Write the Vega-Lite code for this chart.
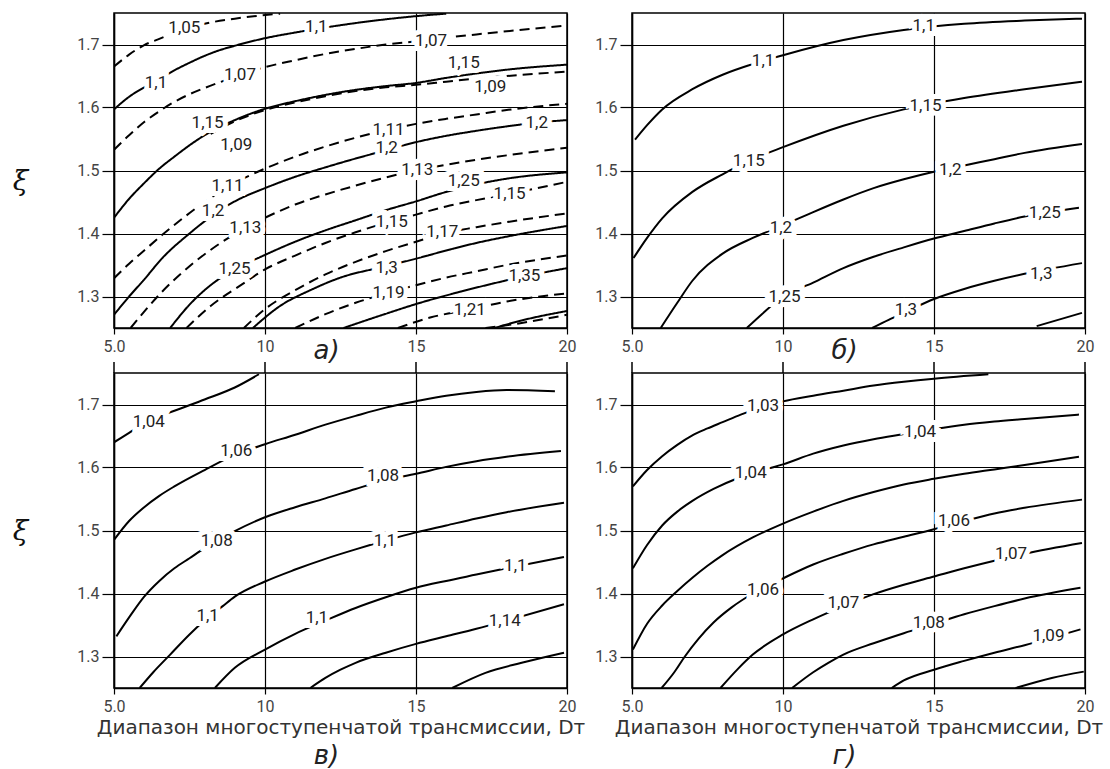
{
"$schema": "https://vega.github.io/schema/vega-lite/v6.json",
"background": "white",
"padding": {"left": 11, "top": 12, "right": 5, "bottom": 0},
"bounds": "flush",
"columns": 2,
"spacing": {"row": 45, "column": 65},
"config": {
  "view": {"stroke": "#000", "strokeWidth": 1.5},
  "axis": {"grid": true, "gridColor": "#000", "gridOpacity": 1, "gridWidth": 1.2, "domainColor": "#000", "domainWidth": 1.5, "tickColor": "#000", "tickWidth": 1.2, "labelFont": "Roboto", "labelFontSize": 16, "labelColor": "#444", "titleColor": "#333", "titleFont": "DejaVu Sans", "titleFontWeight": "normal", "titleFontSize": 20},
  "title": {"font": "DejaVu Sans", "fontSize": 26, "fontStyle": "italic", "fontWeight": "normal", "color": "#222"},
  "text": {"font": "Roboto", "fontSize": 17},
  "line": {"interpolate": "monotone"}
},
"datasets": {
"ticks": [{"x":5},{"x":10},{"x":15},{"x":20}],
"curves": [
{"p":"a","c":"a1","f":"d","x":5,"y":1.665},{"p":"a","c":"a1","f":"d","x":5.5,"y":1.684},{"p":"a","c":"a1","f":"d","x":6,"y":1.699},{"p":"a","c":"a1","f":"d","x":6.5,"y":1.709},{"p":"a","c":"a1","f":"d","x":7.3,"y":1.724},{"p":"a","c":"a1","f":"d","x":8,"y":1.733},{"p":"a","c":"a1","f":"d","x":9,"y":1.741},{"p":"a","c":"a1","f":"d","x":10.5,"y":1.749},
{"p":"a","c":"a2","f":"s","x":5,"y":1.597},{"p":"a","c":"a2","f":"s","x":5.5,"y":1.617},{"p":"a","c":"a2","f":"s","x":6,"y":1.632},{"p":"a","c":"a2","f":"s","x":6.5,"y":1.645},{"p":"a","c":"a2","f":"s","x":7,"y":1.659},{"p":"a","c":"a2","f":"s","x":7.5,"y":1.671},{"p":"a","c":"a2","f":"s","x":8,"y":1.682},{"p":"a","c":"a2","f":"s","x":8.5,"y":1.691},{"p":"a","c":"a2","f":"s","x":9,"y":1.698},{"p":"a","c":"a2","f":"s","x":10,"y":1.71},{"p":"a","c":"a2","f":"s","x":11,"y":1.719},{"p":"a","c":"a2","f":"s","x":12,"y":1.727},{"p":"a","c":"a2","f":"s","x":13,"y":1.734},{"p":"a","c":"a2","f":"s","x":14,"y":1.74},{"p":"a","c":"a2","f":"s","x":15,"y":1.745},{"p":"a","c":"a2","f":"s","x":16,"y":1.749},
{"p":"a","c":"a3","f":"d","x":5,"y":1.533},{"p":"a","c":"a3","f":"d","x":5.5,"y":1.556},{"p":"a","c":"a3","f":"d","x":6,"y":1.577},{"p":"a","c":"a3","f":"d","x":6.5,"y":1.594},{"p":"a","c":"a3","f":"d","x":7,"y":1.609},{"p":"a","c":"a3","f":"d","x":7.5,"y":1.621},{"p":"a","c":"a3","f":"d","x":8,"y":1.631},{"p":"a","c":"a3","f":"d","x":8.5,"y":1.64},{"p":"a","c":"a3","f":"d","x":9.2,"y":1.652},{"p":"a","c":"a3","f":"d","x":10,"y":1.664},{"p":"a","c":"a3","f":"d","x":11,"y":1.675},{"p":"a","c":"a3","f":"d","x":12,"y":1.685},{"p":"a","c":"a3","f":"d","x":13,"y":1.693},{"p":"a","c":"a3","f":"d","x":14,"y":1.7},{"p":"a","c":"a3","f":"d","x":15,"y":1.705},{"p":"a","c":"a3","f":"d","x":16,"y":1.711},{"p":"a","c":"a3","f":"d","x":17,"y":1.716},{"p":"a","c":"a3","f":"d","x":18,"y":1.721},{"p":"a","c":"a3","f":"d","x":20,"y":1.73},
{"p":"a","c":"a4","f":"s","x":5,"y":1.425},{"p":"a","c":"a4","f":"s","x":5.5,"y":1.455},{"p":"a","c":"a4","f":"s","x":6,"y":1.48},{"p":"a","c":"a4","f":"s","x":6.5,"y":1.503},{"p":"a","c":"a4","f":"s","x":7,"y":1.522},{"p":"a","c":"a4","f":"s","x":7.5,"y":1.54},{"p":"a","c":"a4","f":"s","x":8,"y":1.556},{"p":"a","c":"a4","f":"s","x":9,"y":1.58},{"p":"a","c":"a4","f":"s","x":10,"y":1.598},{"p":"a","c":"a4","f":"s","x":11,"y":1.61},{"p":"a","c":"a4","f":"s","x":12,"y":1.62},{"p":"a","c":"a4","f":"s","x":13,"y":1.628},{"p":"a","c":"a4","f":"s","x":14,"y":1.634},{"p":"a","c":"a4","f":"s","x":15,"y":1.639},{"p":"a","c":"a4","f":"s","x":16,"y":1.647},{"p":"a","c":"a4","f":"s","x":17,"y":1.654},{"p":"a","c":"a4","f":"s","x":18,"y":1.66},{"p":"a","c":"a4","f":"s","x":20,"y":1.668},
{"p":"a","c":"a5","f":"d","x":8.2,"y":1.558},{"p":"a","c":"a5","f":"d","x":9,"y":1.578},{"p":"a","c":"a5","f":"d","x":10,"y":1.596},{"p":"a","c":"a5","f":"d","x":11,"y":1.608},{"p":"a","c":"a5","f":"d","x":12,"y":1.618},{"p":"a","c":"a5","f":"d","x":13,"y":1.626},{"p":"a","c":"a5","f":"d","x":14,"y":1.632},{"p":"a","c":"a5","f":"d","x":15,"y":1.636},{"p":"a","c":"a5","f":"d","x":16,"y":1.641},{"p":"a","c":"a5","f":"d","x":17,"y":1.646},{"p":"a","c":"a5","f":"d","x":18,"y":1.65},{"p":"a","c":"a5","f":"d","x":20,"y":1.657},
{"p":"a","c":"a6","f":"d","x":5,"y":1.329},{"p":"a","c":"a6","f":"d","x":5.5,"y":1.352},{"p":"a","c":"a6","f":"d","x":6,"y":1.373},{"p":"a","c":"a6","f":"d","x":6.6,"y":1.398},{"p":"a","c":"a6","f":"d","x":7.3,"y":1.425},{"p":"a","c":"a6","f":"d","x":8,"y":1.45},{"p":"a","c":"a6","f":"d","x":8.8,"y":1.475},{"p":"a","c":"a6","f":"d","x":10,"y":1.503},{"p":"a","c":"a6","f":"d","x":11,"y":1.522},{"p":"a","c":"a6","f":"d","x":12,"y":1.538},{"p":"a","c":"a6","f":"d","x":13,"y":1.552},{"p":"a","c":"a6","f":"d","x":14,"y":1.564},{"p":"a","c":"a6","f":"d","x":15,"y":1.574},{"p":"a","c":"a6","f":"d","x":16,"y":1.582},{"p":"a","c":"a6","f":"d","x":17,"y":1.589},{"p":"a","c":"a6","f":"d","x":18,"y":1.596},{"p":"a","c":"a6","f":"d","x":20,"y":1.606},
{"p":"a","c":"a7","f":"s","x":5,"y":1.271},{"p":"a","c":"a7","f":"s","x":5.5,"y":1.3},{"p":"a","c":"a7","f":"s","x":6,"y":1.327},{"p":"a","c":"a7","f":"s","x":6.6,"y":1.361},{"p":"a","c":"a7","f":"s","x":7.5,"y":1.4},{"p":"a","c":"a7","f":"s","x":8.3,"y":1.43},{"p":"a","c":"a7","f":"s","x":9,"y":1.451},{"p":"a","c":"a7","f":"s","x":10,"y":1.472},{"p":"a","c":"a7","f":"s","x":11,"y":1.49},{"p":"a","c":"a7","f":"s","x":12,"y":1.505},{"p":"a","c":"a7","f":"s","x":13,"y":1.519},{"p":"a","c":"a7","f":"s","x":14,"y":1.532},{"p":"a","c":"a7","f":"s","x":15,"y":1.545},{"p":"a","c":"a7","f":"s","x":16,"y":1.555},{"p":"a","c":"a7","f":"s","x":17,"y":1.563},{"p":"a","c":"a7","f":"s","x":18,"y":1.57},{"p":"a","c":"a7","f":"s","x":19,"y":1.576},{"p":"a","c":"a7","f":"s","x":20,"y":1.58},
{"p":"a","c":"a8","f":"d","x":5.55,"y":1.25},{"p":"a","c":"a8","f":"d","x":6,"y":1.276},{"p":"a","c":"a8","f":"d","x":6.6,"y":1.308},{"p":"a","c":"a8","f":"d","x":7.5,"y":1.348},{"p":"a","c":"a8","f":"d","x":8.5,"y":1.384},{"p":"a","c":"a8","f":"d","x":9.35,"y":1.409},{"p":"a","c":"a8","f":"d","x":10,"y":1.425},{"p":"a","c":"a8","f":"d","x":11,"y":1.446},{"p":"a","c":"a8","f":"d","x":12,"y":1.462},{"p":"a","c":"a8","f":"d","x":13,"y":1.476},{"p":"a","c":"a8","f":"d","x":14,"y":1.489},{"p":"a","c":"a8","f":"d","x":15,"y":1.5},{"p":"a","c":"a8","f":"d","x":16,"y":1.509},{"p":"a","c":"a8","f":"d","x":17,"y":1.517},{"p":"a","c":"a8","f":"d","x":18,"y":1.524},{"p":"a","c":"a8","f":"d","x":20,"y":1.536},
{"p":"a","c":"a9","f":"s","x":6.86,"y":1.25},{"p":"a","c":"a9","f":"s","x":7.5,"y":1.287},{"p":"a","c":"a9","f":"s","x":8.2,"y":1.318},{"p":"a","c":"a9","f":"s","x":9,"y":1.343},{"p":"a","c":"a9","f":"s","x":10,"y":1.366},{"p":"a","c":"a9","f":"s","x":11,"y":1.387},{"p":"a","c":"a9","f":"s","x":12,"y":1.405},{"p":"a","c":"a9","f":"s","x":13,"y":1.421},{"p":"a","c":"a9","f":"s","x":14,"y":1.437},{"p":"a","c":"a9","f":"s","x":15,"y":1.451},{"p":"a","c":"a9","f":"s","x":16,"y":1.466},{"p":"a","c":"a9","f":"s","x":17,"y":1.478},{"p":"a","c":"a9","f":"s","x":18,"y":1.487},{"p":"a","c":"a9","f":"s","x":20,"y":1.497},
{"p":"a","c":"a10","f":"d","x":7.4,"y":1.25},{"p":"a","c":"a10","f":"d","x":8.2,"y":1.285},{"p":"a","c":"a10","f":"d","x":9.2,"y":1.318},{"p":"a","c":"a10","f":"d","x":10,"y":1.343},{"p":"a","c":"a10","f":"d","x":11,"y":1.365},{"p":"a","c":"a10","f":"d","x":12,"y":1.385},{"p":"a","c":"a10","f":"d","x":13,"y":1.402},{"p":"a","c":"a10","f":"d","x":14,"y":1.417},{"p":"a","c":"a10","f":"d","x":15,"y":1.43},{"p":"a","c":"a10","f":"d","x":16,"y":1.443},{"p":"a","c":"a10","f":"d","x":17,"y":1.453},{"p":"a","c":"a10","f":"d","x":18,"y":1.462},{"p":"a","c":"a10","f":"d","x":20,"y":1.482},
{"p":"a","c":"a11","f":"d","x":9.3,"y":1.25},{"p":"a","c":"a11","f":"d","x":10,"y":1.28},{"p":"a","c":"a11","f":"d","x":11,"y":1.31},{"p":"a","c":"a11","f":"d","x":12,"y":1.335},{"p":"a","c":"a11","f":"d","x":13,"y":1.355},{"p":"a","c":"a11","f":"d","x":14,"y":1.372},{"p":"a","c":"a11","f":"d","x":15,"y":1.387},{"p":"a","c":"a11","f":"d","x":15.9,"y":1.4},{"p":"a","c":"a11","f":"d","x":17,"y":1.41},{"p":"a","c":"a11","f":"d","x":18,"y":1.418},{"p":"a","c":"a11","f":"d","x":20,"y":1.432},
{"p":"a","c":"a12","f":"s","x":9.6,"y":1.25},{"p":"a","c":"a12","f":"s","x":10.5,"y":1.285},{"p":"a","c":"a12","f":"s","x":11.5,"y":1.31},{"p":"a","c":"a12","f":"s","x":12.5,"y":1.33},{"p":"a","c":"a12","f":"s","x":14,"y":1.348},{"p":"a","c":"a12","f":"s","x":15,"y":1.36},{"p":"a","c":"a12","f":"s","x":16,"y":1.373},{"p":"a","c":"a12","f":"s","x":17,"y":1.385},{"p":"a","c":"a12","f":"s","x":18,"y":1.395},{"p":"a","c":"a12","f":"s","x":20,"y":1.412},
{"p":"a","c":"a13","f":"d","x":11,"y":1.25},{"p":"a","c":"a13","f":"d","x":12,"y":1.272},{"p":"a","c":"a13","f":"d","x":13,"y":1.29},{"p":"a","c":"a13","f":"d","x":14.1,"y":1.306},{"p":"a","c":"a13","f":"d","x":15,"y":1.318},{"p":"a","c":"a13","f":"d","x":16,"y":1.33},{"p":"a","c":"a13","f":"d","x":17,"y":1.34},{"p":"a","c":"a13","f":"d","x":18,"y":1.35},{"p":"a","c":"a13","f":"d","x":20,"y":1.365},
{"p":"a","c":"a14","f":"s","x":12.6,"y":1.25},{"p":"a","c":"a14","f":"s","x":13.9,"y":1.271},{"p":"a","c":"a14","f":"s","x":15,"y":1.288},{"p":"a","c":"a14","f":"s","x":16.5,"y":1.308},{"p":"a","c":"a14","f":"s","x":17.5,"y":1.32},{"p":"a","c":"a14","f":"s","x":18.6,"y":1.332},{"p":"a","c":"a14","f":"s","x":20,"y":1.345},
{"p":"a","c":"a15","f":"d","x":14.4,"y":1.25},{"p":"a","c":"a15","f":"d","x":15.5,"y":1.267},{"p":"a","c":"a15","f":"d","x":16.75,"y":1.279},{"p":"a","c":"a15","f":"d","x":18,"y":1.292},{"p":"a","c":"a15","f":"d","x":20,"y":1.305},
{"p":"a","c":"a16","f":"s","x":17.6,"y":1.25},{"p":"a","c":"a16","f":"s","x":18.5,"y":1.262},{"p":"a","c":"a16","f":"s","x":20,"y":1.277},
{"p":"a","c":"a17","f":"d","x":17.3,"y":1.25},{"p":"a","c":"a17","f":"d","x":18.5,"y":1.258},{"p":"a","c":"a17","f":"d","x":20,"y":1.271},
{"p":"b","c":"b1","f":"s","x":5.1,"y":1.549},{"p":"b","c":"b1","f":"s","x":5.5,"y":1.572},{"p":"b","c":"b1","f":"s","x":6,"y":1.597},{"p":"b","c":"b1","f":"s","x":7,"y":1.629},{"p":"b","c":"b1","f":"s","x":8,"y":1.652},{"p":"b","c":"b1","f":"s","x":9,"y":1.669},{"p":"b","c":"b1","f":"s","x":10,"y":1.683},{"p":"b","c":"b1","f":"s","x":12,"y":1.707},{"p":"b","c":"b1","f":"s","x":14,"y":1.723},{"p":"b","c":"b1","f":"s","x":16,"y":1.733},{"p":"b","c":"b1","f":"s","x":18,"y":1.738},{"p":"b","c":"b1","f":"s","x":19.9,"y":1.741},
{"p":"b","c":"b2","f":"s","x":5.05,"y":1.361},{"p":"b","c":"b2","f":"s","x":5.5,"y":1.393},{"p":"b","c":"b2","f":"s","x":6,"y":1.424},{"p":"b","c":"b2","f":"s","x":7,"y":1.466},{"p":"b","c":"b2","f":"s","x":8,"y":1.494},{"p":"b","c":"b2","f":"s","x":9,"y":1.518},{"p":"b","c":"b2","f":"s","x":10,"y":1.537},{"p":"b","c":"b2","f":"s","x":12,"y":1.571},{"p":"b","c":"b2","f":"s","x":14,"y":1.597},{"p":"b","c":"b2","f":"s","x":16,"y":1.615},{"p":"b","c":"b2","f":"s","x":18,"y":1.629},{"p":"b","c":"b2","f":"s","x":19.9,"y":1.641},
{"p":"b","c":"b3","f":"s","x":5.95,"y":1.25},{"p":"b","c":"b3","f":"s","x":6.5,"y":1.29},{"p":"b","c":"b3","f":"s","x":7,"y":1.325},{"p":"b","c":"b3","f":"s","x":8,"y":1.368},{"p":"b","c":"b3","f":"s","x":9,"y":1.393},{"p":"b","c":"b3","f":"s","x":10,"y":1.413},{"p":"b","c":"b3","f":"s","x":11,"y":1.434},{"p":"b","c":"b3","f":"s","x":12,"y":1.454},{"p":"b","c":"b3","f":"s","x":13,"y":1.472},{"p":"b","c":"b3","f":"s","x":14,"y":1.486},{"p":"b","c":"b3","f":"s","x":15,"y":1.498},{"p":"b","c":"b3","f":"s","x":16,"y":1.508},{"p":"b","c":"b3","f":"s","x":17,"y":1.518},{"p":"b","c":"b3","f":"s","x":18,"y":1.528},{"p":"b","c":"b3","f":"s","x":19.9,"y":1.542},
{"p":"b","c":"b4","f":"s","x":8.8,"y":1.25},{"p":"b","c":"b4","f":"s","x":9.3,"y":1.272},{"p":"b","c":"b4","f":"s","x":10,"y":1.3},{"p":"b","c":"b4","f":"s","x":11,"y":1.322},{"p":"b","c":"b4","f":"s","x":12,"y":1.345},{"p":"b","c":"b4","f":"s","x":13,"y":1.363},{"p":"b","c":"b4","f":"s","x":14,"y":1.378},{"p":"b","c":"b4","f":"s","x":15,"y":1.392},{"p":"b","c":"b4","f":"s","x":16,"y":1.404},{"p":"b","c":"b4","f":"s","x":17,"y":1.416},{"p":"b","c":"b4","f":"s","x":18,"y":1.427},{"p":"b","c":"b4","f":"s","x":19.8,"y":1.441},
{"p":"b","c":"b5","f":"s","x":12.95,"y":1.25},{"p":"b","c":"b5","f":"s","x":13.5,"y":1.263},{"p":"b","c":"b5","f":"s","x":14,"y":1.274},{"p":"b","c":"b5","f":"s","x":15,"y":1.296},{"p":"b","c":"b5","f":"s","x":16,"y":1.312},{"p":"b","c":"b5","f":"s","x":17,"y":1.325},{"p":"b","c":"b5","f":"s","x":18,"y":1.336},{"p":"b","c":"b5","f":"s","x":19.9,"y":1.353},
{"p":"b","c":"b6","f":"s","x":18.4,"y":1.253},{"p":"b","c":"b6","f":"s","x":19.9,"y":1.274},
{"p":"c","c":"c1","f":"s","x":5,"y":1.64},{"p":"c","c":"c1","f":"s","x":5.5,"y":1.655},{"p":"c","c":"c1","f":"s","x":6.1,"y":1.673},{"p":"c","c":"c1","f":"s","x":7,"y":1.69},{"p":"c","c":"c1","f":"s","x":8,"y":1.708},{"p":"c","c":"c1","f":"s","x":9,"y":1.727},{"p":"c","c":"c1","f":"s","x":9.8,"y":1.748},
{"p":"c","c":"c2","f":"s","x":5,"y":1.485},{"p":"c","c":"c2","f":"s","x":5.5,"y":1.515},{"p":"c","c":"c2","f":"s","x":6,"y":1.537},{"p":"c","c":"c2","f":"s","x":6.5,"y":1.555},{"p":"c","c":"c2","f":"s","x":7,"y":1.57},{"p":"c","c":"c2","f":"s","x":8,"y":1.596},{"p":"c","c":"c2","f":"s","x":9,"y":1.62},{"p":"c","c":"c2","f":"s","x":10,"y":1.637},{"p":"c","c":"c2","f":"s","x":11,"y":1.652},{"p":"c","c":"c2","f":"s","x":12,"y":1.668},{"p":"c","c":"c2","f":"s","x":13,"y":1.682},{"p":"c","c":"c2","f":"s","x":14,"y":1.695},{"p":"c","c":"c2","f":"s","x":15,"y":1.705},{"p":"c","c":"c2","f":"s","x":16,"y":1.714},{"p":"c","c":"c2","f":"s","x":17,"y":1.72},{"p":"c","c":"c2","f":"s","x":18,"y":1.723},{"p":"c","c":"c2","f":"s","x":19.6,"y":1.721},
{"p":"c","c":"c3","f":"s","x":5.08,"y":1.332},{"p":"c","c":"c3","f":"s","x":5.5,"y":1.362},{"p":"c","c":"c3","f":"s","x":6,"y":1.395},{"p":"c","c":"c3","f":"s","x":6.5,"y":1.42},{"p":"c","c":"c3","f":"s","x":7,"y":1.44},{"p":"c","c":"c3","f":"s","x":7.5,"y":1.456},{"p":"c","c":"c3","f":"s","x":8,"y":1.472},{"p":"c","c":"c3","f":"s","x":9,"y":1.499},{"p":"c","c":"c3","f":"s","x":10,"y":1.521},{"p":"c","c":"c3","f":"s","x":11,"y":1.537},{"p":"c","c":"c3","f":"s","x":12,"y":1.551},{"p":"c","c":"c3","f":"s","x":13,"y":1.566},{"p":"c","c":"c3","f":"s","x":14,"y":1.58},{"p":"c","c":"c3","f":"s","x":15,"y":1.59},{"p":"c","c":"c3","f":"s","x":16,"y":1.601},{"p":"c","c":"c3","f":"s","x":17,"y":1.61},{"p":"c","c":"c3","f":"s","x":18,"y":1.617},{"p":"c","c":"c3","f":"s","x":19.8,"y":1.626},
{"p":"c","c":"c4","f":"s","x":5.85,"y":1.25},{"p":"c","c":"c4","f":"s","x":6.3,"y":1.275},{"p":"c","c":"c4","f":"s","x":6.86,"y":1.303},{"p":"c","c":"c4","f":"s","x":7.5,"y":1.335},{"p":"c","c":"c4","f":"s","x":8,"y":1.357},{"p":"c","c":"c4","f":"s","x":8.6,"y":1.38},{"p":"c","c":"c4","f":"s","x":9,"y":1.395},{"p":"c","c":"c4","f":"s","x":10,"y":1.419},{"p":"c","c":"c4","f":"s","x":11,"y":1.438},{"p":"c","c":"c4","f":"s","x":12,"y":1.455},{"p":"c","c":"c4","f":"s","x":13,"y":1.47},{"p":"c","c":"c4","f":"s","x":14,"y":1.484},{"p":"c","c":"c4","f":"s","x":15,"y":1.497},{"p":"c","c":"c4","f":"s","x":16,"y":1.508},{"p":"c","c":"c4","f":"s","x":17,"y":1.519},{"p":"c","c":"c4","f":"s","x":18,"y":1.529},{"p":"c","c":"c4","f":"s","x":19.9,"y":1.544},
{"p":"c","c":"c5","f":"s","x":8.34,"y":1.25},{"p":"c","c":"c5","f":"s","x":9,"y":1.282},{"p":"c","c":"c5","f":"s","x":10,"y":1.311},{"p":"c","c":"c5","f":"s","x":11,"y":1.336},{"p":"c","c":"c5","f":"s","x":12,"y":1.357},{"p":"c","c":"c5","f":"s","x":13,"y":1.377},{"p":"c","c":"c5","f":"s","x":14,"y":1.394},{"p":"c","c":"c5","f":"s","x":15,"y":1.409},{"p":"c","c":"c5","f":"s","x":16,"y":1.42},{"p":"c","c":"c5","f":"s","x":17,"y":1.43},{"p":"c","c":"c5","f":"s","x":18,"y":1.44},{"p":"c","c":"c5","f":"s","x":19.9,"y":1.458},
{"p":"c","c":"c6","f":"s","x":11.5,"y":1.25},{"p":"c","c":"c6","f":"s","x":12,"y":1.266},{"p":"c","c":"c6","f":"s","x":12.5,"y":1.279},{"p":"c","c":"c6","f":"s","x":13,"y":1.29},{"p":"c","c":"c6","f":"s","x":14,"y":1.306},{"p":"c","c":"c6","f":"s","x":15,"y":1.32},{"p":"c","c":"c6","f":"s","x":16,"y":1.332},{"p":"c","c":"c6","f":"s","x":17,"y":1.344},{"p":"c","c":"c6","f":"s","x":18,"y":1.357},{"p":"c","c":"c6","f":"s","x":19.9,"y":1.383},
{"p":"c","c":"c7","f":"s","x":16.2,"y":1.25},{"p":"c","c":"c7","f":"s","x":17.3,"y":1.274},{"p":"c","c":"c7","f":"s","x":18.5,"y":1.29},{"p":"c","c":"c7","f":"s","x":19.9,"y":1.306},
{"p":"d","c":"g1","f":"s","x":5.03,"y":1.57},{"p":"d","c":"g1","f":"s","x":5.5,"y":1.596},{"p":"d","c":"g1","f":"s","x":6,"y":1.618},{"p":"d","c":"g1","f":"s","x":6.5,"y":1.636},{"p":"d","c":"g1","f":"s","x":7,"y":1.651},{"p":"d","c":"g1","f":"s","x":7.5,"y":1.662},{"p":"d","c":"g1","f":"s","x":8,"y":1.672},{"p":"d","c":"g1","f":"s","x":8.6,"y":1.684},{"p":"d","c":"g1","f":"s","x":10,"y":1.705},{"p":"d","c":"g1","f":"s","x":11,"y":1.714},{"p":"d","c":"g1","f":"s","x":12,"y":1.722},{"p":"d","c":"g1","f":"s","x":13,"y":1.73},{"p":"d","c":"g1","f":"s","x":14,"y":1.736},{"p":"d","c":"g1","f":"s","x":15,"y":1.741},{"p":"d","c":"g1","f":"s","x":16.8,"y":1.748},
{"p":"d","c":"g2","f":"s","x":5.03,"y":1.44},{"p":"d","c":"g2","f":"s","x":5.5,"y":1.477},{"p":"d","c":"g2","f":"s","x":6,"y":1.508},{"p":"d","c":"g2","f":"s","x":6.5,"y":1.53},{"p":"d","c":"g2","f":"s","x":7,"y":1.547},{"p":"d","c":"g2","f":"s","x":7.7,"y":1.566},{"p":"d","c":"g2","f":"s","x":8.5,"y":1.583},{"p":"d","c":"g2","f":"s","x":9.5,"y":1.598},{"p":"d","c":"g2","f":"s","x":10,"y":1.605},{"p":"d","c":"g2","f":"s","x":11,"y":1.622},{"p":"d","c":"g2","f":"s","x":12,"y":1.635},{"p":"d","c":"g2","f":"s","x":13,"y":1.645},{"p":"d","c":"g2","f":"s","x":14,"y":1.653},{"p":"d","c":"g2","f":"s","x":15,"y":1.661},{"p":"d","c":"g2","f":"s","x":16,"y":1.668},{"p":"d","c":"g2","f":"s","x":17,"y":1.673},{"p":"d","c":"g2","f":"s","x":18,"y":1.677},{"p":"d","c":"g2","f":"s","x":19.8,"y":1.684},
{"p":"d","c":"g3","f":"s","x":5.03,"y":1.311},{"p":"d","c":"g3","f":"s","x":5.5,"y":1.352},{"p":"d","c":"g3","f":"s","x":6,"y":1.381},{"p":"d","c":"g3","f":"s","x":6.5,"y":1.404},{"p":"d","c":"g3","f":"s","x":7,"y":1.425},{"p":"d","c":"g3","f":"s","x":7.5,"y":1.444},{"p":"d","c":"g3","f":"s","x":8,"y":1.461},{"p":"d","c":"g3","f":"s","x":9,"y":1.489},{"p":"d","c":"g3","f":"s","x":10,"y":1.511},{"p":"d","c":"g3","f":"s","x":11,"y":1.53},{"p":"d","c":"g3","f":"s","x":12,"y":1.547},{"p":"d","c":"g3","f":"s","x":13,"y":1.561},{"p":"d","c":"g3","f":"s","x":14,"y":1.573},{"p":"d","c":"g3","f":"s","x":15,"y":1.582},{"p":"d","c":"g3","f":"s","x":16,"y":1.59},{"p":"d","c":"g3","f":"s","x":17,"y":1.597},{"p":"d","c":"g3","f":"s","x":18,"y":1.604},{"p":"d","c":"g3","f":"s","x":19.8,"y":1.617},
{"p":"d","c":"g4","f":"s","x":5.98,"y":1.25},{"p":"d","c":"g4","f":"s","x":6.4,"y":1.275},{"p":"d","c":"g4","f":"s","x":6.75,"y":1.3},{"p":"d","c":"g4","f":"s","x":7.2,"y":1.328},{"p":"d","c":"g4","f":"s","x":7.7,"y":1.354},{"p":"d","c":"g4","f":"s","x":8.3,"y":1.378},{"p":"d","c":"g4","f":"s","x":9,"y":1.4},{"p":"d","c":"g4","f":"s","x":10,"y":1.424},{"p":"d","c":"g4","f":"s","x":11,"y":1.446},{"p":"d","c":"g4","f":"s","x":12,"y":1.463},{"p":"d","c":"g4","f":"s","x":13,"y":1.478},{"p":"d","c":"g4","f":"s","x":14,"y":1.49},{"p":"d","c":"g4","f":"s","x":15,"y":1.502},{"p":"d","c":"g4","f":"s","x":16,"y":1.515},{"p":"d","c":"g4","f":"s","x":17,"y":1.527},{"p":"d","c":"g4","f":"s","x":18,"y":1.536},{"p":"d","c":"g4","f":"s","x":19.9,"y":1.549},
{"p":"d","c":"g5","f":"s","x":7.93,"y":1.25},{"p":"d","c":"g5","f":"s","x":8.5,"y":1.28},{"p":"d","c":"g5","f":"s","x":9,"y":1.303},{"p":"d","c":"g5","f":"s","x":10,"y":1.335},{"p":"d","c":"g5","f":"s","x":11,"y":1.359},{"p":"d","c":"g5","f":"s","x":12,"y":1.38},{"p":"d","c":"g5","f":"s","x":13,"y":1.399},{"p":"d","c":"g5","f":"s","x":14,"y":1.414},{"p":"d","c":"g5","f":"s","x":15,"y":1.427},{"p":"d","c":"g5","f":"s","x":16,"y":1.44},{"p":"d","c":"g5","f":"s","x":17,"y":1.452},{"p":"d","c":"g5","f":"s","x":18,"y":1.463},{"p":"d","c":"g5","f":"s","x":19.9,"y":1.48},
{"p":"d","c":"g6","f":"s","x":10.3,"y":1.25},{"p":"d","c":"g6","f":"s","x":11,"y":1.275},{"p":"d","c":"g6","f":"s","x":11.5,"y":1.29},{"p":"d","c":"g6","f":"s","x":12,"y":1.303},{"p":"d","c":"g6","f":"s","x":13,"y":1.321},{"p":"d","c":"g6","f":"s","x":14,"y":1.337},{"p":"d","c":"g6","f":"s","x":15,"y":1.352},{"p":"d","c":"g6","f":"s","x":16,"y":1.367},{"p":"d","c":"g6","f":"s","x":17,"y":1.38},{"p":"d","c":"g6","f":"s","x":18,"y":1.392},{"p":"d","c":"g6","f":"s","x":19.85,"y":1.409},
{"p":"d","c":"g7","f":"s","x":13.6,"y":1.25},{"p":"d","c":"g7","f":"s","x":14,"y":1.262},{"p":"d","c":"g7","f":"s","x":15,"y":1.279},{"p":"d","c":"g7","f":"s","x":16,"y":1.293},{"p":"d","c":"g7","f":"s","x":17,"y":1.306},{"p":"d","c":"g7","f":"s","x":18,"y":1.318},{"p":"d","c":"g7","f":"s","x":19.85,"y":1.343},
{"p":"d","c":"g8","f":"s","x":17.7,"y":1.25},{"p":"d","c":"g8","f":"s","x":18.9,"y":1.266},{"p":"d","c":"g8","f":"s","x":19.96,"y":1.276}
],
"labels": [
{"p":"a","x":7.33,"y":1.726,"t":"1,05"},{"p":"a","x":6.39,"y":1.639,"t":"1,1"},{"p":"a","x":11.7,"y":1.727,"t":"1,1"},{"p":"a","x":9.17,"y":1.652,"t":"1,07"},{"p":"a","x":15.5,"y":1.706,"t":"1,07"},{"p":"a","x":8.1,"y":1.575,"t":"1,15"},{"p":"a","x":9.05,"y":1.541,"t":"1,09"},{"p":"a","x":16.58,"y":1.671,"t":"1,15"},{"p":"a","x":17.46,"y":1.632,"t":"1,09"},{"p":"a","x":8.76,"y":1.475,"t":"1,11"},{"p":"a","x":14.09,"y":1.565,"t":"1,11"},{"p":"a","x":8.28,"y":1.435,"t":"1,2"},{"p":"a","x":14.03,"y":1.536,"t":"1,2"},{"p":"a","x":19.0,"y":1.575,"t":"1,2"},{"p":"a","x":9.35,"y":1.409,"t":"1,13"},{"p":"a","x":15.04,"y":1.501,"t":"1,13"},{"p":"a","x":8.99,"y":1.343,"t":"1,25"},{"p":"a","x":16.58,"y":1.483,"t":"1,25"},{"p":"a","x":14.2,"y":1.419,"t":"1,15"},{"p":"a","x":18.1,"y":1.463,"t":"1,15"},{"p":"a","x":15.87,"y":1.403,"t":"1,17"},{"p":"a","x":14.03,"y":1.345,"t":"1,3"},{"p":"a","x":14.09,"y":1.306,"t":"1,19"},{"p":"a","x":18.59,"y":1.332,"t":"1,35"},{"p":"a","x":16.78,"y":1.279,"t":"1,21"},
{"p":"b","x":9.34,"y":1.674,"t":"1,1"},{"p":"b","x":14.66,"y":1.729,"t":"1,1"},{"p":"b","x":8.87,"y":1.515,"t":"1,15"},{"p":"b","x":14.72,"y":1.602,"t":"1,15"},{"p":"b","x":9.93,"y":1.409,"t":"1,2"},{"p":"b","x":15.54,"y":1.501,"t":"1,2"},{"p":"b","x":10.05,"y":1.3,"t":"1,25"},{"p":"b","x":18.67,"y":1.432,"t":"1,25"},{"p":"b","x":14.07,"y":1.279,"t":"1,3"},{"p":"b","x":18.55,"y":1.335,"t":"1,3"},
{"p":"c","x":6.15,"y":1.673,"t":"1,04"},{"p":"c","x":9.05,"y":1.626,"t":"1,06"},{"p":"c","x":13.91,"y":1.586,"t":"1,08"},{"p":"c","x":8.4,"y":1.483,"t":"1,08"},{"p":"c","x":13.97,"y":1.483,"t":"1,1"},{"p":"c","x":8.1,"y":1.364,"t":"1,1"},{"p":"c","x":11.72,"y":1.361,"t":"1,1"},{"p":"c","x":18.29,"y":1.443,"t":"1,1"},{"p":"c","x":17.94,"y":1.356,"t":"1,14"},
{"p":"d","x":9.34,"y":1.697,"t":"1,03"},{"p":"d","x":8.93,"y":1.591,"t":"1,04"},{"p":"d","x":14.54,"y":1.657,"t":"1,04"},{"p":"d","x":9.34,"y":1.406,"t":"1,06"},{"p":"d","x":15.66,"y":1.515,"t":"1,06"},{"p":"d","x":12.0,"y":1.385,"t":"1,07"},{"p":"d","x":17.55,"y":1.462,"t":"1,07"},{"p":"d","x":14.83,"y":1.353,"t":"1,08"},{"p":"d","x":18.79,"y":1.332,"t":"1,09"}
]
},
"concat": [
 {"width": 453, "height": 315,
  "title": {"text": "а)", "orient": "bottom", "offset": -16, "anchor": "middle", "dx": -14},
  "layer": [
   {"data": {"name": "curves"}, "transform": [{"filter": "datum.p == 'a'"}], "mark": {"type": "line", "color": "black", "strokeWidth": 2, "clip": true},
    "encoding": {"x": {"field": "x", "type": "quantitative", "scale": {"domain": [5, 20], "nice": false, "zero": false}, "axis": {"values": [5, 10, 15, 20], "labelExpr": "datum.value == 5 ? '5.0' : datum.label", "title": null, "tickSize": 6, "labelPadding": 4, "labelFlush": false}},
     "y": {"field": "y", "type": "quantitative", "scale": {"domain": [1.25, 1.75], "nice": false, "zero": false}, "axis": {"values": [1.3, 1.4, 1.5, 1.6, 1.7], "format": ".1f", "tickSize": 12, "labelPadding": 3, "labelFlush": false, "title": "ξ", "titleAngle": 0, "titleX": -94, "titleY": 168, "titleFontSize": 28, "titleFont": "DejaVu Serif", "titleFontStyle": "italic", "titleAlign": "center", "titleBaseline": "middle", "titleColor": "#111"}},
     "detail": {"field": "c"},
     "strokeDash": {"field": "f", "type": "nominal", "scale": {"domain": ["s", "d"], "range": [[1, 0], [10, 6]]}, "legend": null}}},
   {"data": {"name": "labels"}, "transform": [{"filter": "datum.p == 'a'"}], "mark": {"type": "text", "color": "white", "stroke": "white", "strokeWidth": 10},
    "encoding": {"x": {"field": "x", "type": "quantitative"}, "y": {"field": "y", "type": "quantitative"}, "text": {"field": "t"}}},
   {"data": {"name": "labels"}, "transform": [{"filter": "datum.p == 'a'"}], "mark": {"type": "text", "color": "#222"},
    "encoding": {"x": {"field": "x", "type": "quantitative"}, "y": {"field": "y", "type": "quantitative"}, "text": {"field": "t"}}}
  ]},
 {"width": 453, "height": 315,
  "title": {"text": "б)", "orient": "bottom", "offset": -16, "anchor": "middle", "dx": -14},
  "layer": [
   {"data": {"name": "curves"}, "transform": [{"filter": "datum.p == 'b'"}], "mark": {"type": "line", "color": "black", "strokeWidth": 2, "clip": true},
    "encoding": {"x": {"field": "x", "type": "quantitative", "scale": {"domain": [5, 20], "nice": false, "zero": false}, "axis": {"values": [5, 10, 15, 20], "labelExpr": "datum.value == 5 ? '5.0' : datum.label", "title": null, "tickSize": 6, "labelPadding": 4, "labelFlush": false}},
     "y": {"field": "y", "type": "quantitative", "scale": {"domain": [1.25, 1.75], "nice": false, "zero": false}, "axis": {"values": [1.3, 1.4, 1.5, 1.6, 1.7], "format": ".1f", "tickSize": 12, "labelPadding": 3, "labelFlush": false, "title": null}},
     "detail": {"field": "c"}}},
   {"data": {"name": "labels"}, "transform": [{"filter": "datum.p == 'b'"}], "mark": {"type": "text", "color": "white", "stroke": "white", "strokeWidth": 10},
    "encoding": {"x": {"field": "x", "type": "quantitative"}, "y": {"field": "y", "type": "quantitative"}, "text": {"field": "t"}}},
   {"data": {"name": "labels"}, "transform": [{"filter": "datum.p == 'b'"}], "mark": {"type": "text", "color": "#222"},
    "encoding": {"x": {"field": "x", "type": "quantitative"}, "y": {"field": "y", "type": "quantitative"}, "text": {"field": "t"}}}
  ]},
 {"width": 453, "height": 315,
  "title": {"text": "в)", "orient": "bottom", "offset": 6, "anchor": "middle", "dx": -14},
  "layer": [
   {"data": {"name": "curves"}, "transform": [{"filter": "datum.p == 'c'"}], "mark": {"type": "line", "color": "black", "strokeWidth": 2, "clip": true},
    "encoding": {"x": {"field": "x", "type": "quantitative", "scale": {"domain": [5, 20], "nice": false, "zero": false}, "axis": {"values": [5, 10, 15, 20], "labelExpr": "datum.value == 5 ? '5.0' : datum.label", "title": "Диапазон многоступенчатой трансмиссии, Dᴛ", "titlePadding": 3, "tickSize": 6, "labelPadding": 4, "labelFlush": false}},
     "y": {"field": "y", "type": "quantitative", "scale": {"domain": [1.25, 1.75], "nice": false, "zero": false}, "axis": {"values": [1.3, 1.4, 1.5, 1.6, 1.7], "format": ".1f", "tickSize": 12, "labelPadding": 3, "labelFlush": false, "title": "ξ", "titleAngle": 0, "titleX": -94, "titleY": 158, "titleFontSize": 28, "titleFont": "DejaVu Serif", "titleFontStyle": "italic", "titleAlign": "center", "titleBaseline": "middle", "titleColor": "#111"}},
     "detail": {"field": "c"}}},
   {"data": {"name": "ticks"}, "mark": {"type": "rule", "color": "#000", "strokeWidth": 1.5, "clip": false},
    "encoding": {"x": {"field": "x", "type": "quantitative"}, "y": {"datum": 1.7675}, "y2": {"datum": 1.75}}},
   {"data": {"name": "labels"}, "transform": [{"filter": "datum.p == 'c'"}], "mark": {"type": "text", "color": "white", "stroke": "white", "strokeWidth": 10},
    "encoding": {"x": {"field": "x", "type": "quantitative"}, "y": {"field": "y", "type": "quantitative"}, "text": {"field": "t"}}},
   {"data": {"name": "labels"}, "transform": [{"filter": "datum.p == 'c'"}], "mark": {"type": "text", "color": "#222"},
    "encoding": {"x": {"field": "x", "type": "quantitative"}, "y": {"field": "y", "type": "quantitative"}, "text": {"field": "t"}}}
  ]},
 {"width": 453, "height": 315,
  "title": {"text": "г)", "orient": "bottom", "offset": 6, "anchor": "middle", "dx": -14},
  "layer": [
   {"data": {"name": "curves"}, "transform": [{"filter": "datum.p == 'd'"}], "mark": {"type": "line", "color": "black", "strokeWidth": 2, "clip": true},
    "encoding": {"x": {"field": "x", "type": "quantitative", "scale": {"domain": [5, 20], "nice": false, "zero": false}, "axis": {"values": [5, 10, 15, 20], "labelExpr": "datum.value == 5 ? '5.0' : datum.label", "title": "Диапазон многоступенчатой трансмиссии, Dᴛ", "titlePadding": 3, "tickSize": 6, "labelPadding": 4, "labelFlush": false}},
     "y": {"field": "y", "type": "quantitative", "scale": {"domain": [1.25, 1.75], "nice": false, "zero": false}, "axis": {"values": [1.3, 1.4, 1.5, 1.6, 1.7], "format": ".1f", "tickSize": 12, "labelPadding": 3, "labelFlush": false, "title": null}},
     "detail": {"field": "c"}}},
   {"data": {"name": "ticks"}, "mark": {"type": "rule", "color": "#000", "strokeWidth": 1.5, "clip": false},
    "encoding": {"x": {"field": "x", "type": "quantitative"}, "y": {"datum": 1.7675}, "y2": {"datum": 1.75}}},
   {"data": {"name": "labels"}, "transform": [{"filter": "datum.p == 'd'"}], "mark": {"type": "text", "color": "white", "stroke": "white", "strokeWidth": 10},
    "encoding": {"x": {"field": "x", "type": "quantitative"}, "y": {"field": "y", "type": "quantitative"}, "text": {"field": "t"}}},
   {"data": {"name": "labels"}, "transform": [{"filter": "datum.p == 'd'"}], "mark": {"type": "text", "color": "#222"},
    "encoding": {"x": {"field": "x", "type": "quantitative"}, "y": {"field": "y", "type": "quantitative"}, "text": {"field": "t"}}}
  ]}
]
}
